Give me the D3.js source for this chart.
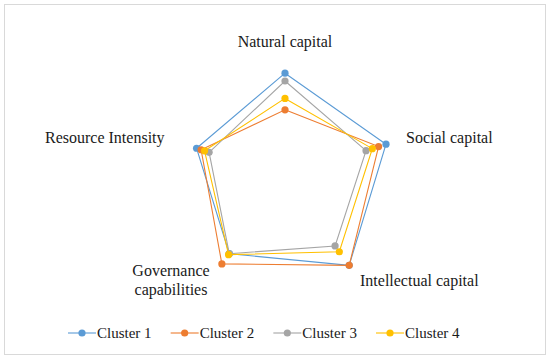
<!DOCTYPE html>
<html>
<head>
<meta charset="utf-8">
<script src="https://cdn.jsdelivr.net/npm/d3@7"></script>
<style>
  body { margin: 0; background: #fff; }
  svg text { font-family: "Liberation Serif", "Times New Roman", serif; fill: #1a1a1a; }
</style>
</head>
<body>
<svg id="chart" width="550" height="359"></svg>
<script>
// axes of the radar, clockwise from the top
var axes = ["Natural capital", "Social capital", "Intellectual capital", "Governance capabilities", "Resource Intensity"];
var clusters = ["Cluster 1", "Cluster 2", "Cluster 3", "Cluster 4"];
var colors = ["#5B9BD5", "#ED7D31", "#A5A5A5", "#FFC000"];

// values (relative scale 0..1)
var cluster1 = [0.865, 0.885, 0.91, 0.79, 0.775];
var cluster2 = [0.56, 0.82, 0.91, 0.895, 0.735];
var cluster3 = [0.80, 0.71, 0.71, 0.79, 0.665];
var cluster4 = [0.655, 0.765, 0.77, 0.80, 0.705];
var series = [cluster1, cluster2, cluster3, cluster4];

var svg = d3.select("#chart");
var cx = 285, cy = 177;

// outer frame
svg.append("rect")
  .attr("x", 4.5).attr("y", 4.5)
  .attr("width", 541).attr("height", 350)
  .attr("fill", "#fff")
  .attr("stroke", "#D9D9D9")
  .attr("stroke-width", 1);

var r = d3.scaleLinear().domain([0, 1]).range([0, 120]);
var angle = d3.scalePoint().domain(d3.range(axes.length + 1)).range([0, 2 * Math.PI]);

var g = svg.append("g").attr("transform", "translate(" + cx + "," + cy + ")");

var line = d3.lineRadial()
  .angle(function(d, i){ return angle(i); })
  .radius(function(d){ return r(d); })
  .curve(d3.curveLinearClosed);

// polygons + markers, one group per cluster
series.forEach(function(vals, s){
  var sg = g.append("g");
  sg.append("path")
    .attr("d", line(vals))
    .attr("fill", "none")
    .attr("stroke", colors[s])
    .attr("stroke-width", 1.1);
  sg.selectAll("circle")
    .data(vals)
    .enter().append("circle")
    .attr("cx", function(d, i){ return r(d) * Math.sin(angle(i)); })
    .attr("cy", function(d, i){ return -r(d) * Math.cos(angle(i)); })
    .attr("r", 3.6)
    .attr("fill", colors[s]);
});

// axis labels (placed by hand next to each spoke)
var labelPos = [
  {x: 285, y: 47, anchor: "middle", lines: ["Natural capital"]},
  {x: 406, y: 143, anchor: "start", lines: ["Social capital"]},
  {x: 360, y: 286, anchor: "start", lines: ["Intellectual capital"]},
  {x: 171, y: 276, anchor: "middle", lines: ["Governance", "capabilities"]},
  {x: 45, y: 143, anchor: "start", lines: ["Resource Intensity"]}
];
labelPos.forEach(function(p, i){
  var t = svg.append("text")
    .attr("x", p.x).attr("y", p.y)
    .attr("text-anchor", p.anchor)
    .attr("font-size", 16);
  p.lines.forEach(function(l, k){
    t.append("tspan").attr("x", p.x).attr("dy", k ? 18.5 : 0).text(l);
  });
});

// legend
var lx = d3.scalePoint().domain(clusters).range([68, 376]);
var leg = svg.append("g").selectAll("g")
  .data(clusters)
  .enter().append("g")
  .attr("transform", function(d){ return "translate(" + lx(d) + ",333)"; });
leg.append("line")
  .attr("x1", 0).attr("x2", 28)
  .attr("stroke", function(d, i){ return colors[i]; })
  .attr("stroke-width", 1.1);
leg.append("circle")
  .attr("cx", 14).attr("r", 3.6)
  .attr("fill", function(d, i){ return colors[i]; });
leg.append("text")
  .attr("x", 29).attr("y", 5)
  .attr("font-size", 15)
  .text(function(d){ return d; });
</script>
</body>
</html>
